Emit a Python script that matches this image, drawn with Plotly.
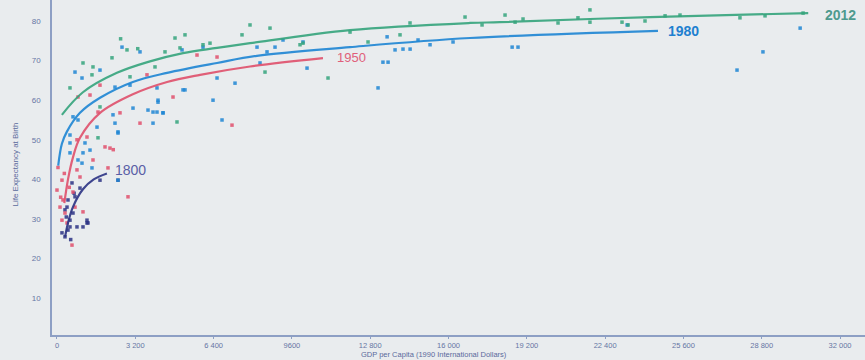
import plotly.graph_objects as go

# ---- data ----
x_ticks = [0, 3200, 6400, 9600, 12800, 16000, 19200, 22400, 25600, 28800, 32000]
x_ticktext = ["0", "3 200", "6 400", "9600", "12 800", "16 000", "19 200", "22 400", "25 600", "28 800", "32 000"]
y_ticks = [10, 20, 30, 40, 50, 60, 70, 80]
y_ticktext = ["10", "20", "30", "40", "50", "60", "70", "80"]

# scatter points: GDP per capita, life expectancy
pts1800_x = [327, 204, 450, 531, 654, 409, 736, 613, 940, 1226, 1267, 531, 817, 327, 450, 1757, 1063, 2493, 1226, 700, 380, 560]
pts1800_y = [25.5, 26.5, 27.2, 29.7, 31.5, 33.0, 35.6, 39.1, 37.8, 29.7, 29.0, 28.0, 28.0, 32.3, 34.8, 39.8, 28.0, 39.8, 29.0, 36.5, 30.5, 24.8]

pts1950_x = [5722, 6540, 1349, 1676, 2575, 3392, 4741, 7152, 858, 1757, 3678, 1962, 2166, 2902, 2084,
             41, 204, 0, 245, 123, 327, 204, 409, 654, 940, 817, 736, 1063, 613, 1471, 817, 1226, 2300, 500, 300, 150]
pts1950_y = [71.4, 70.9, 61.3, 57.0, 56.8, 54.2, 60.8, 53.7, 60.8, 63.8, 66.4, 48.2, 47.9, 35.6, 42.9,
             43.0, 39.8, 37.3, 34.8, 33.0, 31.5, 29.7, 29.0, 36.8, 40.6, 42.4, 33.0, 31.8, 23.4, 44.9, 50.0, 50.7, 47.5, 38.0, 41.5, 35.5]

pts1980_x = [18600, 18840, 23300, 28850, 27790, 30370, 15245, 16185, 8174, 9236, 10054, 10218, 13120, 13320, 13530,
             13490, 13815, 14140, 14430, 14755, 6376, 7275, 5150, 4128, 3924, 4332, 3924, 6744, 5109, 5967, 6540,
             8583, 8910, 8297, 2657, 3392, 736, 1022, 1757, 2370, 2983, 4087, 3106, 3719, 4087, 4332, 5231, 4128,
             2370, 2289, 2493, 1635, 858, 654, 531, 531, 531, 858, 1063, 1144, 1430, 2493, 2493, 1349, 1022]
pts1980_y = [73.4, 73.4, 79.0, 72.2, 67.6, 78.2, 74.0, 74.7, 73.4, 75.2, 74.7, 68.1, 63.1, 69.6, 69.6,
             76.0, 72.7, 72.9, 72.9, 75.2, 60.0, 64.3, 62.6, 60.0, 57.0, 56.8, 54.2, 55.0, 72.7, 73.4, 65.6,
             72.2, 73.4, 69.4, 73.4, 72.2, 67.1, 65.6, 67.6, 63.3, 63.8, 63.1, 58.0, 57.5, 57.0, 56.8, 62.6, 59.5,
             54.2, 56.3, 52.0, 53.2, 55.0, 55.8, 51.2, 49.2, 46.7, 44.9, 46.7, 49.2, 42.9, 51.7, 39.8, 47.4, 44.1]

pts2012_x = [7888, 7561, 5231, 4823, 5027, 5967, 6253, 2248, 1063, 1471, 1430, 531, 1757, 4904, 2983, 4414,
             4005, 2861, 1676, 8705, 9931, 14018, 14427, 16675, 11076, 8501, 10054, 11975, 12711, 17370, 18310,
             18720, 19045, 20475, 21290, 21780, 21780, 23090, 23340, 24030, 24850, 25460, 27910, 28935, 30490, 3300, 2600]
pts2012_y = [79.0, 76.5, 76.5, 75.7, 73.2, 74.0, 74.4, 70.7, 69.4, 68.4, 66.4, 63.1, 58.3, 54.5, 65.9, 72.2,
             68.4, 72.7, 50.5, 78.2, 74.0, 76.5, 79.5, 81.0, 65.6, 67.1, 74.4, 77.2, 74.7, 79.0, 81.5,
             79.7, 80.5, 79.5, 80.8, 82.8, 79.7, 79.7, 79.0, 80.0, 81.3, 81.5, 80.8, 81.3, 82.0, 73.0, 75.5]

# trend curves
fit1800_x = [330, 450, 650, 1060, 1500, 2040]
fit1800_y = [25.5, 29.0, 33.0, 37.5, 40.0, 41.5]
fit1950_x = [300, 450, 650, 940, 1760, 3100, 4500, 5850, 7890, 10870]
fit1950_y = [34.0, 40.0, 45.5, 50.5, 56.8, 61.5, 64.6, 66.4, 68.5, 70.6]
fit1980_x = [50, 200, 400, 940, 1760, 3100, 4500, 6540, 8170, 11975, 16880, 24560]
fit1980_y = [43.5, 49.0, 52.0, 56.8, 60.6, 64.6, 66.9, 69.4, 71.2, 73.4, 75.7, 77.5]
fit2012_x = [200, 1060, 2450, 3800, 5150, 6540, 7890, 11975, 16880, 18100, 24235, 30700]
fit2012_y = [56.3, 62.0, 66.9, 69.8, 71.9, 73.2, 74.4, 77.7, 79.5, 79.7, 81.0, 82.0]

series = [
    ("1800", pts1800_x, pts1800_y, fit1800_x, fit1800_y, "#2c3384"),
    ("1950", pts1950_x, pts1950_y, fit1950_x, fit1950_y, "#e0506c"),
    ("1980", pts1980_x, pts1980_y, fit1980_x, fit1980_y, "#1e86d4"),
    ("2012", pts2012_x, pts2012_y, fit2012_x, fit2012_y, "#35a47c"),
]

fig = go.Figure()
for name, px, py, fx, fy, col in series:
    fig.add_trace(go.Scatter(x=px, y=py, mode="markers", name=name,
                             marker=dict(size=3.5, color=col, opacity=0.85, symbol="square"), showlegend=False))
for name, px, py, fx, fy, col in series:
    fig.add_trace(go.Scatter(x=fx, y=fy, mode="lines", name=name + " fit",
                             line=dict(color=col, width=2.2, shape="spline"), opacity=0.9, showlegend=False))

labels = [
    ("1800", 2290, 42.4, "#5a5ea6", 14, False),
    ("1950", 11360, 70.7, "#e0607a", 13, False),
    ("1980", 24900, 77.5, "#1e80d0", 14, True),
    ("2012", 31300, 81.4, "#4e9a8e", 14, True),
]
for txt, lx, ly, col, sz, bold in labels:
    fig.add_annotation(x=lx, y=ly, text=("<b>%s</b>" % txt) if bold else txt, showarrow=False,
                       xanchor="left", yanchor="middle",
                       font=dict(family="Liberation Sans, Arial, sans-serif", size=sz, color=col))

tick_font = dict(family="Liberation Sans, Arial, sans-serif", size=7.5, color="#6676a4")
axis_col = "#8d9fc4"

fig.add_annotation(xref="paper", yref="paper", x=0.47, y=-0.057, yanchor="middle", showarrow=False,
                   borderpad=0,
                   text="GDP per Capita (1990 International Dollars)",
                   font=dict(family="Liberation Sans, Arial, sans-serif", size=7.5, color="#5a6a9c"))
fig.add_annotation(xref="paper", yref="paper", x=-0.045, y=0.51, xanchor="center", showarrow=False,
                   text="Life Expectancy at Birth", textangle=-90,
                   font=dict(family="Liberation Sans, Arial, sans-serif", size=8, color="#5a6a9c"))

fig.update_layout(
    width=865, height=360,
    margin=dict(l=52, r=0, t=0, b=25),
    paper_bgcolor="#e9ecee", plot_bgcolor="#e9ecee",
    showlegend=False,
    xaxis=dict(range=[-204, 33020], tickvals=x_ticks, ticktext=x_ticktext, showgrid=False, zeroline=False,
               showline=True, linecolor=axis_col, linewidth=1.5, ticks="outside", ticklen=2,
               tickcolor=axis_col, tickfont=tick_font, automargin=False),
    yaxis=dict(range=[0.7, 85.3], tickvals=y_ticks, ticktext=y_ticktext, showgrid=False, zeroline=False,
               showline=True, linecolor=axis_col, linewidth=1.5, ticks="", ticklabelstandoff=8,
               tickfont=dict(family="Liberation Sans, Arial, sans-serif", size=8, color="#6676a4"),
               automargin=False),
)

fig.write_html("out.html", config={"displayModeBar": False},
               post_script="document.body.style.margin='0';document.body.style.background='#e9ecee';")
